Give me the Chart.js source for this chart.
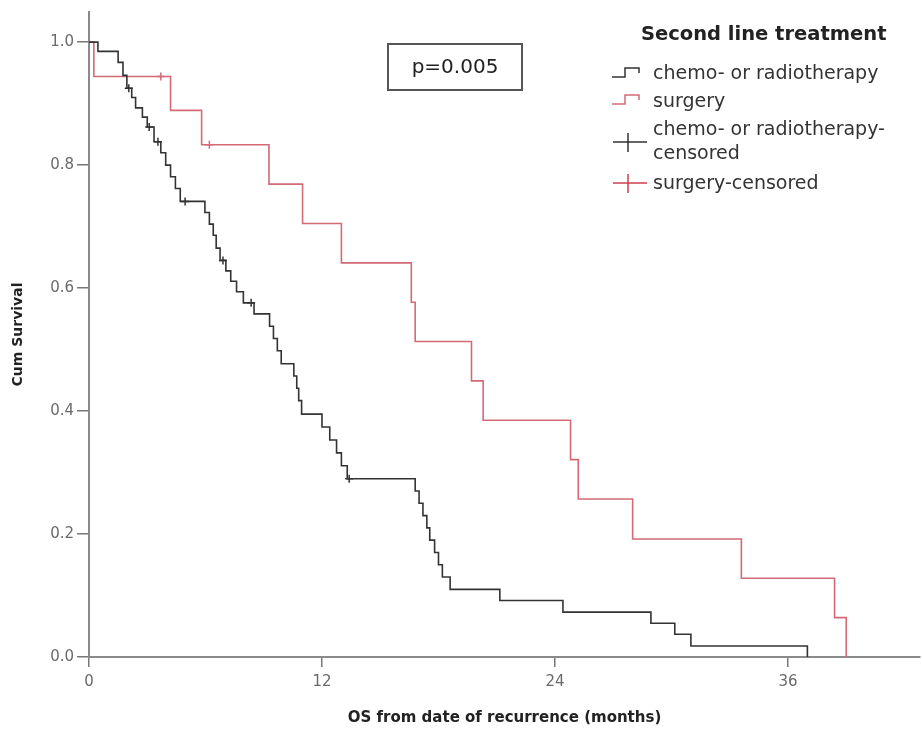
<!DOCTYPE html>
<html>
<head>
<meta charset="utf-8">
<title>OS from date of recurrence</title>
<script src="https://cdn.jsdelivr.net/npm/chart.js@4.4.1/dist/chart.umd.min.js"></script>
<style>
  body { margin: 0; background: #fff; }
  #graficoKM { display: block; }
</style>
</head>
<body>
<canvas id="graficoKM" width="922" height="736"></canvas>
<script>
// Kaplan-Meier steps: time (months) of each drop and the level after it
const chemoTime = [0, 0.46, 1.5, 1.75, 1.95, 2.2, 2.4, 2.75, 3.0, 3.35, 3.7, 3.95, 4.2, 4.45, 4.7,
    5.97, 6.2, 6.4, 6.55, 6.75, 7.05, 7.3, 7.6, 7.95, 8.5, 9.3, 9.5, 9.7, 9.9,
    10.55, 10.7, 10.8, 10.95, 12.0, 12.4, 12.75, 13.0, 13.3,
    16.8, 17.0, 17.2, 17.4, 17.55, 17.8, 18.0, 18.2, 18.6,
    21.16, 24.41, 28.94, 30.17, 31.0, 37.0];
const chemoSurv = [1.0, 0.985, 0.967, 0.946, 0.925, 0.910, 0.893, 0.878, 0.862, 0.838, 0.820, 0.800, 0.781, 0.762, 0.741,
    0.723, 0.704, 0.686, 0.665, 0.645, 0.628, 0.611, 0.594, 0.576, 0.558, 0.538, 0.518, 0.498, 0.477,
    0.457, 0.437, 0.417, 0.395, 0.374, 0.353, 0.332, 0.311, 0.290,
    0.270, 0.250, 0.230, 0.210, 0.190, 0.170, 0.150, 0.130, 0.110,
    0.092, 0.073, 0.055, 0.037, 0.018, 0.0];

const surgeryTime = [0, 0.25, 4.2, 5.8, 9.27, 11.0, 13.0, 16.6, 16.8, 19.7, 20.3, 24.8, 25.2, 28.0, 33.6, 38.4, 39.0];
const surgerySurv = [1.0, 0.944, 0.889, 0.833, 0.769, 0.705, 0.641, 0.577, 0.513, 0.449, 0.385, 0.321, 0.257, 0.192, 0.128, 0.064, 0.0];

// censored cases
const chemoCensTime = [2.05, 3.1, 3.55, 4.95, 6.9, 8.35, 13.4];
const chemoCensSurv = [0.925, 0.862, 0.838, 0.741, 0.645, 0.576, 0.290];
const surgeryCensTime = [3.7, 6.2];
const surgeryCensSurv = [0.944, 0.833];

const xTicks = [0, 12, 24, 36];
const yTicks = [0, 0.2, 0.4, 0.6, 0.8, 1.0];

const legendTitle = 'Second line treatment';
const pValueText = 'p=0.005';

const coloreChemo = '#333333';
const coloreChir = '#d46a76';
const coloreChirCens = '#cf3f50';

function punti(tx, ty) {
    return tx.map((t, i) => ({ x: t, y: ty[i] }));
}

// legenda e riquadro del p-value disegnati a mano
const legendaKM = {
    id: 'legendaKM',
    afterDraw(chart) {
        const ctx = chart.ctx;
        ctx.save();
        ctx.textBaseline = 'middle';
        ctx.textAlign = 'left';

        // p-value box
        ctx.strokeStyle = '#555';
        ctx.lineWidth = 2;
        ctx.strokeRect(388, 44, 134, 46);
        ctx.fillStyle = '#222';
        ctx.font = '20px "DejaVu Sans"';
        ctx.textAlign = 'center';
        ctx.fillText(pValueText, 455, 68);

        ctx.textAlign = 'left';
        ctx.font = 'bold 19.5px "DejaVu Sans"';
        ctx.fillText(legendTitle, 641, 35);

        function gradino(y, col) {
            ctx.strokeStyle = col;
            ctx.lineWidth = 1.5;
            ctx.beginPath();
            ctx.moveTo(612, y + 4);
            ctx.lineTo(625, y + 4);
            ctx.lineTo(625, y - 5);
            ctx.lineTo(639, y - 5);
            ctx.lineTo(639, y);
            ctx.stroke();
        }
        function croce(y, col) {
            ctx.strokeStyle = col;
            ctx.lineWidth = 1.5;
            ctx.beginPath();
            ctx.moveTo(613, y);
            ctx.lineTo(647, y);
            ctx.moveTo(628, y - 9);
            ctx.lineTo(628, y + 10);
            ctx.stroke();
        }

        ctx.font = '19px "DejaVu Sans"';
        ctx.fillStyle = '#333';
        gradino(73, coloreChemo);
        ctx.fillText('chemo- or radiotherapy', 653, 74);
        gradino(100, coloreChir);
        ctx.fillText('surgery', 653, 102);
        croce(142, coloreChemo);
        ctx.fillText('chemo- or radiotherapy-', 653, 130);
        ctx.fillText('censored', 653, 154);
        croce(183, coloreChirCens);
        ctx.fillText('surgery-censored', 653, 184);
        ctx.restore();
    }
};

const canvas = document.getElementById('graficoKM');

new Chart(canvas, {
    type: 'scatter',
    data: {
        datasets: [
            {
                label: 'chemo- or radiotherapy',
                data: punti(chemoTime, chemoSurv),
                showLine: true,
                stepped: 'before',
                borderColor: coloreChemo,
                borderWidth: 1.6,
                pointRadius: 0
            },
            {
                label: 'surgery',
                data: punti(surgeryTime, surgerySurv),
                showLine: true,
                stepped: 'before',
                borderColor: coloreChir,
                borderWidth: 1.6,
                pointRadius: 0
            },
            {
                label: 'chemo- or radiotherapy-censored',
                data: punti(chemoCensTime, chemoCensSurv),
                pointStyle: 'cross',
                pointRadius: 4,
                borderColor: coloreChemo,
                borderWidth: 1.5
            },
            {
                label: 'surgery-censored',
                data: punti(surgeryCensTime, surgeryCensSurv),
                pointStyle: 'cross',
                pointRadius: 4,
                borderColor: coloreChir,
                borderWidth: 1.5
            }
        ]
    },
    options: {
        responsive: false,
        animation: false,
        layout: { autoPadding: false, padding: { left: 0, top: 10, right: 2, bottom: 0 } },
        plugins: {
            legend: { display: false },
            tooltip: { enabled: false }
        },
        scales: {
            x: {
                type: 'linear',
                min: 0,
                max: 42.8,
                afterBuildTicks: s => { s.ticks = xTicks.map(v => ({ value: v })); },
                afterFit: s => { s.height = 79; },
                grid: { drawOnChartArea: false, tickLength: 10, color: '#777', lineWidth: 1.5 },
                border: { color: '#8a8a8a', width: 2 },
                ticks: {
                    padding: 6,
                    color: '#6a6a6a',
                    font: { family: 'DejaVu Sans', size: 15 },
                    maxRotation: 0
                },
                title: {
                    display: true,
                    text: 'OS from date of recurrence (months)',
                    color: '#222',
                    font: { family: 'DejaVu Sans', size: 15, weight: 'bold' },
                    padding: { top: 0, bottom: 9 }
                }
            },
            y: {
                min: 0,
                max: 1.049,
                afterBuildTicks: s => { s.ticks = yTicks.map(v => ({ value: v })); },
                afterFit: s => { s.width = 89; },
                grid: { drawOnChartArea: false, tickLength: 12, color: '#777', lineWidth: 1.5 },
                border: { color: '#8a8a8a', width: 2 },
                ticks: {
                    padding: 3,
                    color: '#6a6a6a',
                    font: { family: 'DejaVu Sans', size: 15 },
                    callback: v => v.toFixed(1)
                },
                title: {
                    display: true,
                    text: 'Cum Survival',
                    color: '#222',
                    font: { family: 'DejaVu Sans', size: 14, weight: 'bold' },
                    padding: { top: 10, bottom: 0 }
                }
            }
        }
    },
    plugins: [legendaKM]
});
</script>
</body>
</html>
